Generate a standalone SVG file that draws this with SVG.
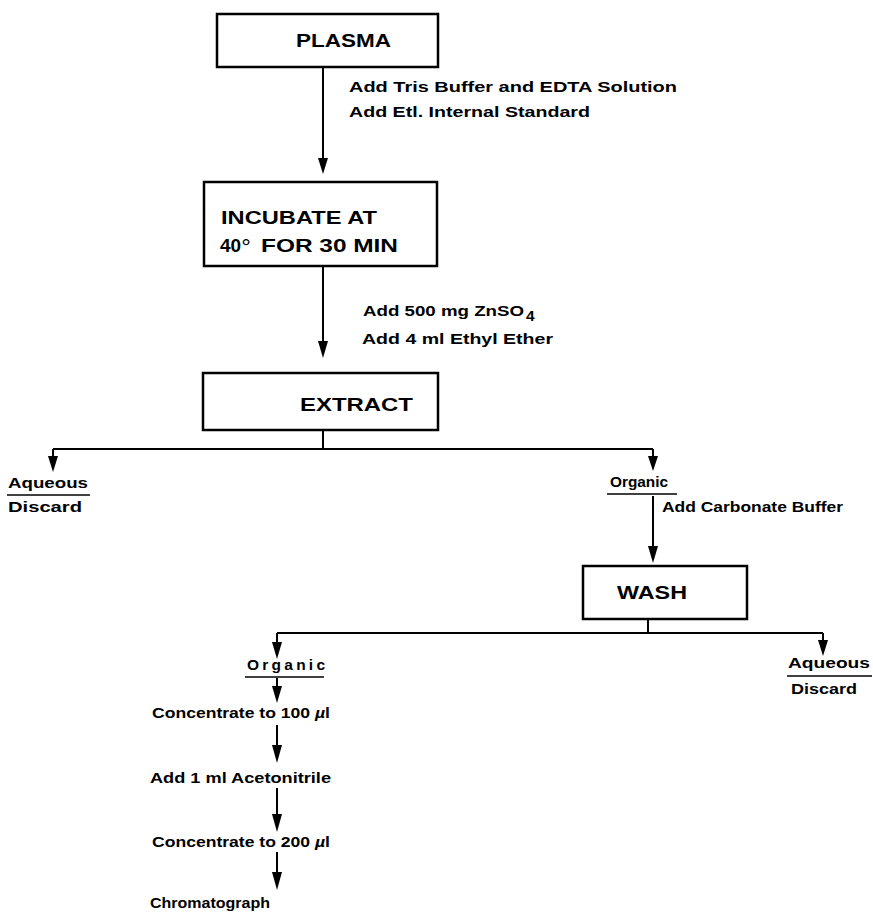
<svg xmlns="http://www.w3.org/2000/svg" width="873" height="913" viewBox="0 0 873 913">
<style>
.box{fill:#fff;stroke:#000;stroke-width:2.5}
.bt{font-family:"Liberation Sans",Arial,sans-serif;font-weight:bold;font-size:19px;fill:#000}
.lb{font-family:"Liberation Sans",Arial,sans-serif;font-weight:bold;font-size:15.5px;fill:#000}
.ln{stroke:#000;stroke-width:2;fill:none}
.ul{stroke:#000;stroke-width:1.5}
.ah{fill:#000}
</style>
<g id="connectors">
<line class="ln" x1="323" y1="67" x2="323" y2="160"/>
<line class="ln" x1="323" y1="266" x2="323" y2="343"/>
<line class="ln" x1="323" y1="430" x2="323" y2="449"/>
<line class="ln" x1="53" y1="449" x2="653" y2="449"/>
<line class="ln" x1="53" y1="449" x2="53" y2="458"/>
<line class="ln" x1="653" y1="449" x2="653" y2="458"/>
<line class="ln" x1="653" y1="496" x2="653" y2="548"/>
<line class="ln" x1="648" y1="619" x2="648" y2="633"/>
<line class="ln" x1="277" y1="633" x2="823" y2="633"/>
<line class="ln" x1="277" y1="633" x2="277" y2="643"/>
<line class="ln" x1="823" y1="633" x2="823" y2="641"/>
<line class="ln" x1="277" y1="678" x2="277" y2="688"/>
<line class="ln" x1="277" y1="725" x2="277" y2="747"/>
<line class="ln" x1="277" y1="788" x2="277" y2="816"/>
<line class="ln" x1="277" y1="852" x2="277" y2="874"/>
<path class="ah" d="M318,158 L328,158 L323,174 Z"/>
<path class="ah" d="M318,341 L328,341 L323,358 Z"/>
<path class="ah" d="M48,456 L58,456 L53,472 Z"/>
<path class="ah" d="M648,456 L658,456 L653,471 Z"/>
<path class="ah" d="M648,546 L658,546 L653,563 Z"/>
<path class="ah" d="M272,642 L282,642 L277,659 Z"/>
<path class="ah" d="M818,640 L828,640 L823,656 Z"/>
<path class="ah" d="M272,686 L282,686 L277,703 Z"/>
<path class="ah" d="M272,745 L282,745 L277,763 Z"/>
<path class="ah" d="M272,814 L282,814 L277,832 Z"/>
<path class="ah" d="M272,872 L282,872 L277,890 Z"/>
</g>
<g id="plasma">
<rect class="box" x="217" y="14" width="221" height="53"/>
<text class="bt" x="296" y="47" textLength="95" lengthAdjust="spacingAndGlyphs">PLASMA</text>
</g>
<g id="incubate">
<rect class="box" x="204" y="182" width="233" height="84"/>
<text class="bt" x="221" y="224" textLength="156" lengthAdjust="spacingAndGlyphs">INCUBATE AT</text>
<text class="bt" x="220" y="252">40<tspan font-size="24" font-weight="normal" dx="0" dy="3">°</tspan></text>
<text class="bt" x="261" y="252" textLength="137" lengthAdjust="spacingAndGlyphs">FOR 30 MIN</text>
</g>
<g id="extract">
<rect class="box" x="203" y="373" width="235" height="57"/>
<text class="bt" x="300" y="411" textLength="113" lengthAdjust="spacingAndGlyphs">EXTRACT</text>
</g>
<g id="wash">
<rect class="box" x="583" y="566" width="164" height="53"/>
<text class="bt" x="617" y="599" textLength="70" lengthAdjust="spacingAndGlyphs">WASH</text>
</g>
<g id="labels">
<text class="lb" x="349" y="92" textLength="328" lengthAdjust="spacingAndGlyphs">Add Tris Buffer and EDTA Solution</text>
<text class="lb" x="349" y="117" textLength="241" lengthAdjust="spacingAndGlyphs">Add  Etl. Internal Standard</text>
<text class="lb" x="363" y="316" textLength="161" lengthAdjust="spacingAndGlyphs">Add 500 mg ZnSO</text>
<text class="lb" x="526" y="321" font-size="12">4</text>
<text class="lb" x="362" y="344" textLength="191" lengthAdjust="spacingAndGlyphs">Add 4 ml Ethyl  Ether</text>
<text class="lb" x="662" y="512" textLength="181" lengthAdjust="spacingAndGlyphs">Add Carbonate Buffer</text>
</g>
<g id="aqueous1">
<text class="lb" x="8" y="488" textLength="80" lengthAdjust="spacingAndGlyphs">Aqueous</text>
<line class="ul" x1="7" y1="495" x2="90" y2="495"/>
<text class="lb" x="8" y="512" textLength="74" lengthAdjust="spacingAndGlyphs">Discard</text>
</g>
<g id="organic1">
<text class="lb" x="610" y="487" textLength="58" lengthAdjust="spacingAndGlyphs">Organic</text>
<line class="ul" x1="607" y1="494" x2="677" y2="494"/>
</g>
<g id="aqueous2">
<text class="lb" x="788" y="668" textLength="82" lengthAdjust="spacingAndGlyphs">Aqueous</text>
<line class="ul" x1="787" y1="676" x2="872" y2="676"/>
<text class="lb" x="791" y="694" textLength="66" lengthAdjust="spacingAndGlyphs">Discard</text>
</g>
<g id="organic2">
<text class="lb" x="247" y="670" textLength="78" lengthAdjust="spacing">Organic</text>
<line class="ul" x1="245" y1="677" x2="324" y2="677"/>
</g>
<g id="steps">
<text class="lb" x="152" y="718" textLength="178" lengthAdjust="spacingAndGlyphs">Concentrate to 100 <tspan font-style="italic">µ</tspan>l</text>
<text class="lb" x="150" y="783" textLength="181" lengthAdjust="spacingAndGlyphs">Add 1 ml Acetonitrile</text>
<text class="lb" x="152" y="847" textLength="178" lengthAdjust="spacingAndGlyphs">Concentrate to 200 <tspan font-style="italic">µ</tspan>l</text>
<text class="lb" x="150" y="908" textLength="120" lengthAdjust="spacingAndGlyphs">Chromatograph</text>
</g>
</svg>
